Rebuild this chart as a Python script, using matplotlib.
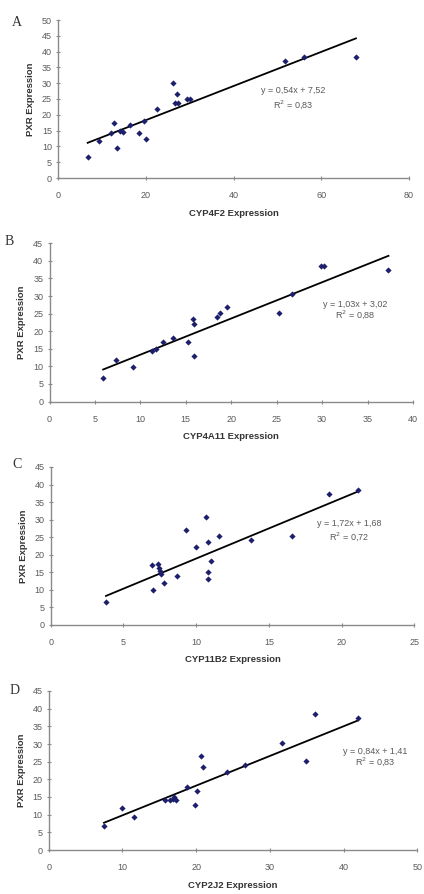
import matplotlib
matplotlib.use("Agg")
import matplotlib.pyplot as plt
import numpy as np

plt.rcParams['font.family'] = ['Liberation Sans', 'DejaVu Sans']

# ---- Panel A: CYP4F2 ----
a_x = [6.7, 9.3, 12.8, 13.4, 12.1, 14.1, 14.7, 16.4, 18.5, 19.6, 20.0, 22.6,
       26.1, 27.0, 26.7, 27.3, 29.3, 30.1, 51.7, 56.0, 67.9]
a_y = [6.5, 11.8, 17.3, 9.6, 14.1, 15.0, 14.5, 16.8, 14.1, 18.0, 12.4, 21.7,
       30.0, 26.6, 23.6, 23.6, 24.9, 24.9, 37.1, 38.2, 38.4]
# ---- Panel B: CYP4A11 ----
b_x = [5.9, 7.35, 9.2, 11.3, 11.7, 12.5, 13.6, 15.2, 15.9, 15.8, 15.9, 18.4,
       18.8, 19.5, 25.3, 26.7, 29.9, 30.2, 37.3]
b_y = [6.7, 11.9, 9.7, 14.5, 15.0, 16.9, 18.0, 16.9, 12.9, 23.5, 22.1, 24.0,
       25.1, 27.0, 25.2, 30.5, 38.6, 38.6, 37.3]
# ---- Panel C: CYP11B2 ----
c_x = [3.8, 7.05, 6.94, 7.4, 7.46, 7.5, 7.6, 7.8, 8.7, 9.3, 10.0, 10.7, 10.8,
       10.8, 10.8, 11.0, 11.6, 13.8, 16.6, 19.1, 21.1]
c_y = [6.6, 9.9, 17.1, 17.3, 16.1, 15.2, 14.5, 11.8, 14.0, 26.9, 22.1, 30.6,
       23.7, 14.9, 13.0, 18.3, 25.3, 24.3, 25.2, 37.3, 38.3]
# ---- Panel D: CYP2J2 ----
d_x = [7.5, 9.9, 11.6, 15.8, 16.5, 16.9, 17.3, 17.0, 18.7, 20.1, 19.9, 20.7,
       20.9, 24.2, 26.7, 31.6, 34.9, 36.1, 41.9]
d_y = [6.7, 11.8, 9.4, 14.1, 14.1, 14.4, 14.1, 15.1, 17.7, 16.8, 12.7, 26.6,
       23.6, 22.2, 24.0, 30.3, 25.1, 38.4, 37.3]

letters = ["A", "B", "C", "D"]
xlabels = ["CYP4F2 Expression", "CYP4A11 Expression", "CYP11B2 Expression", "CYP2J2 Expression"]
ylabel = "PXR Expression"
slopes = [0.54, 1.03, 1.72, 0.84]
intercepts = [7.52, 3.02, 1.68, 1.41]
eq_texts = ["y = 0,54x + 7,52", "y = 1,03x + 3,02", "y = 1,72x + 1,68", "y = 0,84x + 1,41"]
r2_texts = ["R$^2$ = 0,83", "R$^2$ = 0,88", "R$^2$ = 0,72", "R$^2$ = 0,83"]
xmaxs = [80, 40, 25, 50]
xsteps = [20, 5, 5, 10]
ymaxs = [50, 45, 45, 45]

W, H = 424, 894
# pixel boxes: left, right, top, bottom
boxes = [(58.3, 409, 20, 178), (49.5, 413, 243.3, 401.5),
         (50.7, 414.4, 467, 624.7), (48.7, 417.2, 691, 850)]
eq_pos = [(53.5, 27.8, 23.1), (33.6, 27.6, 24.8), (20.5, 28.8, 25.0), (44.3, 27.8, 24.9)]
letter_pos = [(17, 23), (9, 241), (17, 465), (15, 690)]

fig = plt.figure(figsize=(W / 100, H / 100), dpi=100)
fig.patch.set_facecolor("white")

datasets = [(a_x, a_y), (b_x, b_y), (c_x, c_y), (d_x, d_y)]
axis_col = "#8a8a8a"
text_col = "#5a5a5a"

for i, ((xs, ys), (l, r, t, b)) in enumerate(zip(datasets, boxes)):
    ax = fig.add_axes([l / W, (H - b) / H, (r - l) / W, (b - t) / H])
    ax.set_xlim(0, xmaxs[i])
    ax.set_ylim(0, ymaxs[i])
    ax.scatter(xs, ys, marker="D", s=10, color="#1c1f6b", zorder=3, linewidths=0)
    x0, x1 = min(xs), max(xs)
    xx = np.array([x0, x1])
    ax.plot(xx, slopes[i] * xx + intercepts[i], color="black", lw=1.3, zorder=2)
    ax.set_xticks(np.arange(0, xmaxs[i] + 0.1, xsteps[i]))
    ax.set_yticks(np.arange(0, ymaxs[i] + 0.1, 5))
    for s in ["top", "right"]:
        ax.spines[s].set_visible(False)
    for s in ["left", "bottom"]:
        ax.spines[s].set_color(axis_col)
        ax.spines[s].set_linewidth(1.0)
    ax.tick_params(axis="both", direction="inout", length=3, width=0.8, color=axis_col,
                   labelsize=6.5, labelcolor=text_col, pad=3)
    ax.tick_params(axis="x", pad=8)
    ax.set_xlabel(xlabels[i], fontsize=6.8, fontweight="bold", color="#333333", labelpad=6)
    ax.set_ylabel(ylabel, fontsize=6.8, fontweight="bold", color="#333333", labelpad=5)
    ex, ey, ry = eq_pos[i]
    ax.text(ex, ey, eq_texts[i], fontsize=6.5, color=text_col, ha="center", va="center")
    ax.text(ex, ry, r2_texts[i], fontsize=6.5, color=text_col, ha="center", va="center")
    lx, ly = letter_pos[i]
    fig.text(lx / W, 1 - ly / H, letters[i], fontsize=10, color="#333333",
             family=["Liberation Serif", "DejaVu Serif"], ha="center", va="center")

fig.savefig("out.png", dpi=100, facecolor="white")
